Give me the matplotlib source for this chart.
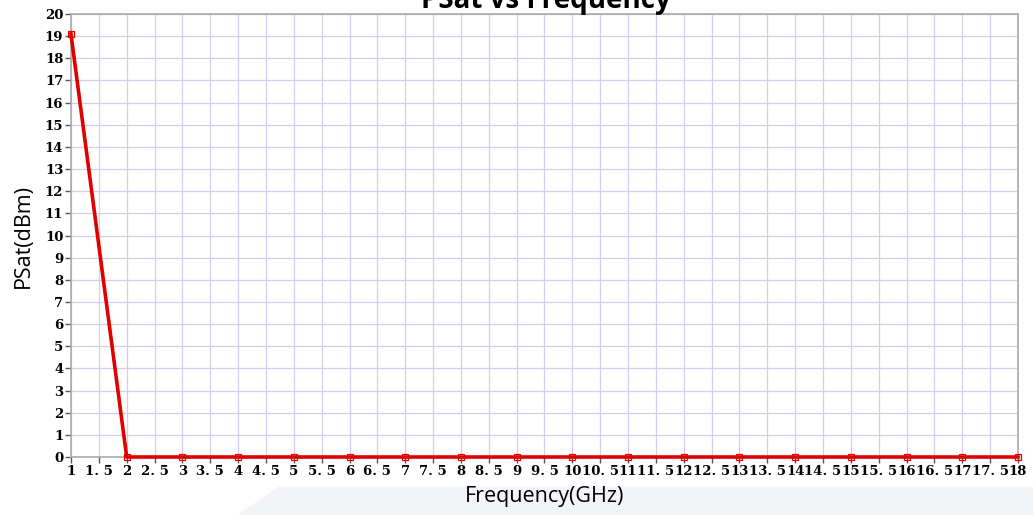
import matplotlib
matplotlib.use("Agg")
import matplotlib.pyplot as plt
from matplotlib.patches import Polygon

freq = [1, 2, 3, 4, 5, 6, 7, 8, 9, 10, 11, 12, 13, 14, 15, 16, 17, 18]
psat = [19.1, 0, 0, 0, 0, 0, 0, 0, 0, 0, 0, 0, 0, 0, 0, 0, 0, 0]
xticks = [1 + 0.5 * i for i in range(35)]
yticks = list(range(0, 21))

fig = plt.figure(figsize=(10.33, 5.15), dpi=100)
fig.patch.set_facecolor("white")

# faint background watermark shapes
for pts in ([(0.23, 0.0), (0.27, 0.055), (0.73, 0.055), (0.69, 0.0)],
            [(0.69, 0.0), (0.73, 0.055), (1.0, 0.055), (1.0, 0.0)]):
    fig.patches.append(Polygon(pts, closed=True, transform=fig.transFigure,
                               facecolor="#f3f4f7", edgecolor="none", zorder=-10))

ax = fig.add_axes([0.0687, 0.1126, 0.9168, 0.8602])
ax.set_zorder(1)
ax.patch.set_alpha(1.0)
ax.set_facecolor("white")
ax.plot(freq, psat, color="#e00000", lw=2.6, marker="s", ms=5,
        mfc="none", mec="#e00000", mew=0.9, zorder=3, clip_on=False)
ax.set_xlim(1, 18)
ax.set_ylim(0, 20)
ax.set_xticks(xticks)
ax.set_xticklabels([("%g" % v).replace(".", ". ") for v in xticks],
                   fontfamily="DejaVu Serif", fontweight="bold", fontsize=9.5)
ax.set_yticks(yticks)
ax.set_yticklabels([str(v) for v in yticks],
                   fontfamily="DejaVu Serif", fontweight="bold", fontsize=9.5)
ax.grid(True, color="#d4cdf0", lw=0.9)
ax.set_axisbelow(True)
for s in ax.spines.values():
    s.set_color("#aaaaaa")
    s.set_linewidth(1.2)
ax.tick_params(axis="both", length=4, width=1, color="#555555", pad=1.5)

ax.set_xlabel("Frequency(GHz)", fontfamily="Open Sans", fontsize=15.5, labelpad=6)
ax.set_ylabel("PSat(dBm)", fontfamily="Open Sans", fontsize=15.5, labelpad=8)

fig.text(0.528, 1 - 8 / 515, "PSat vs Frequency", ha="center", va="baseline",
         fontfamily="Open Sans", fontweight="bold", fontsize=20)

fig.savefig("out.png", dpi=100)
